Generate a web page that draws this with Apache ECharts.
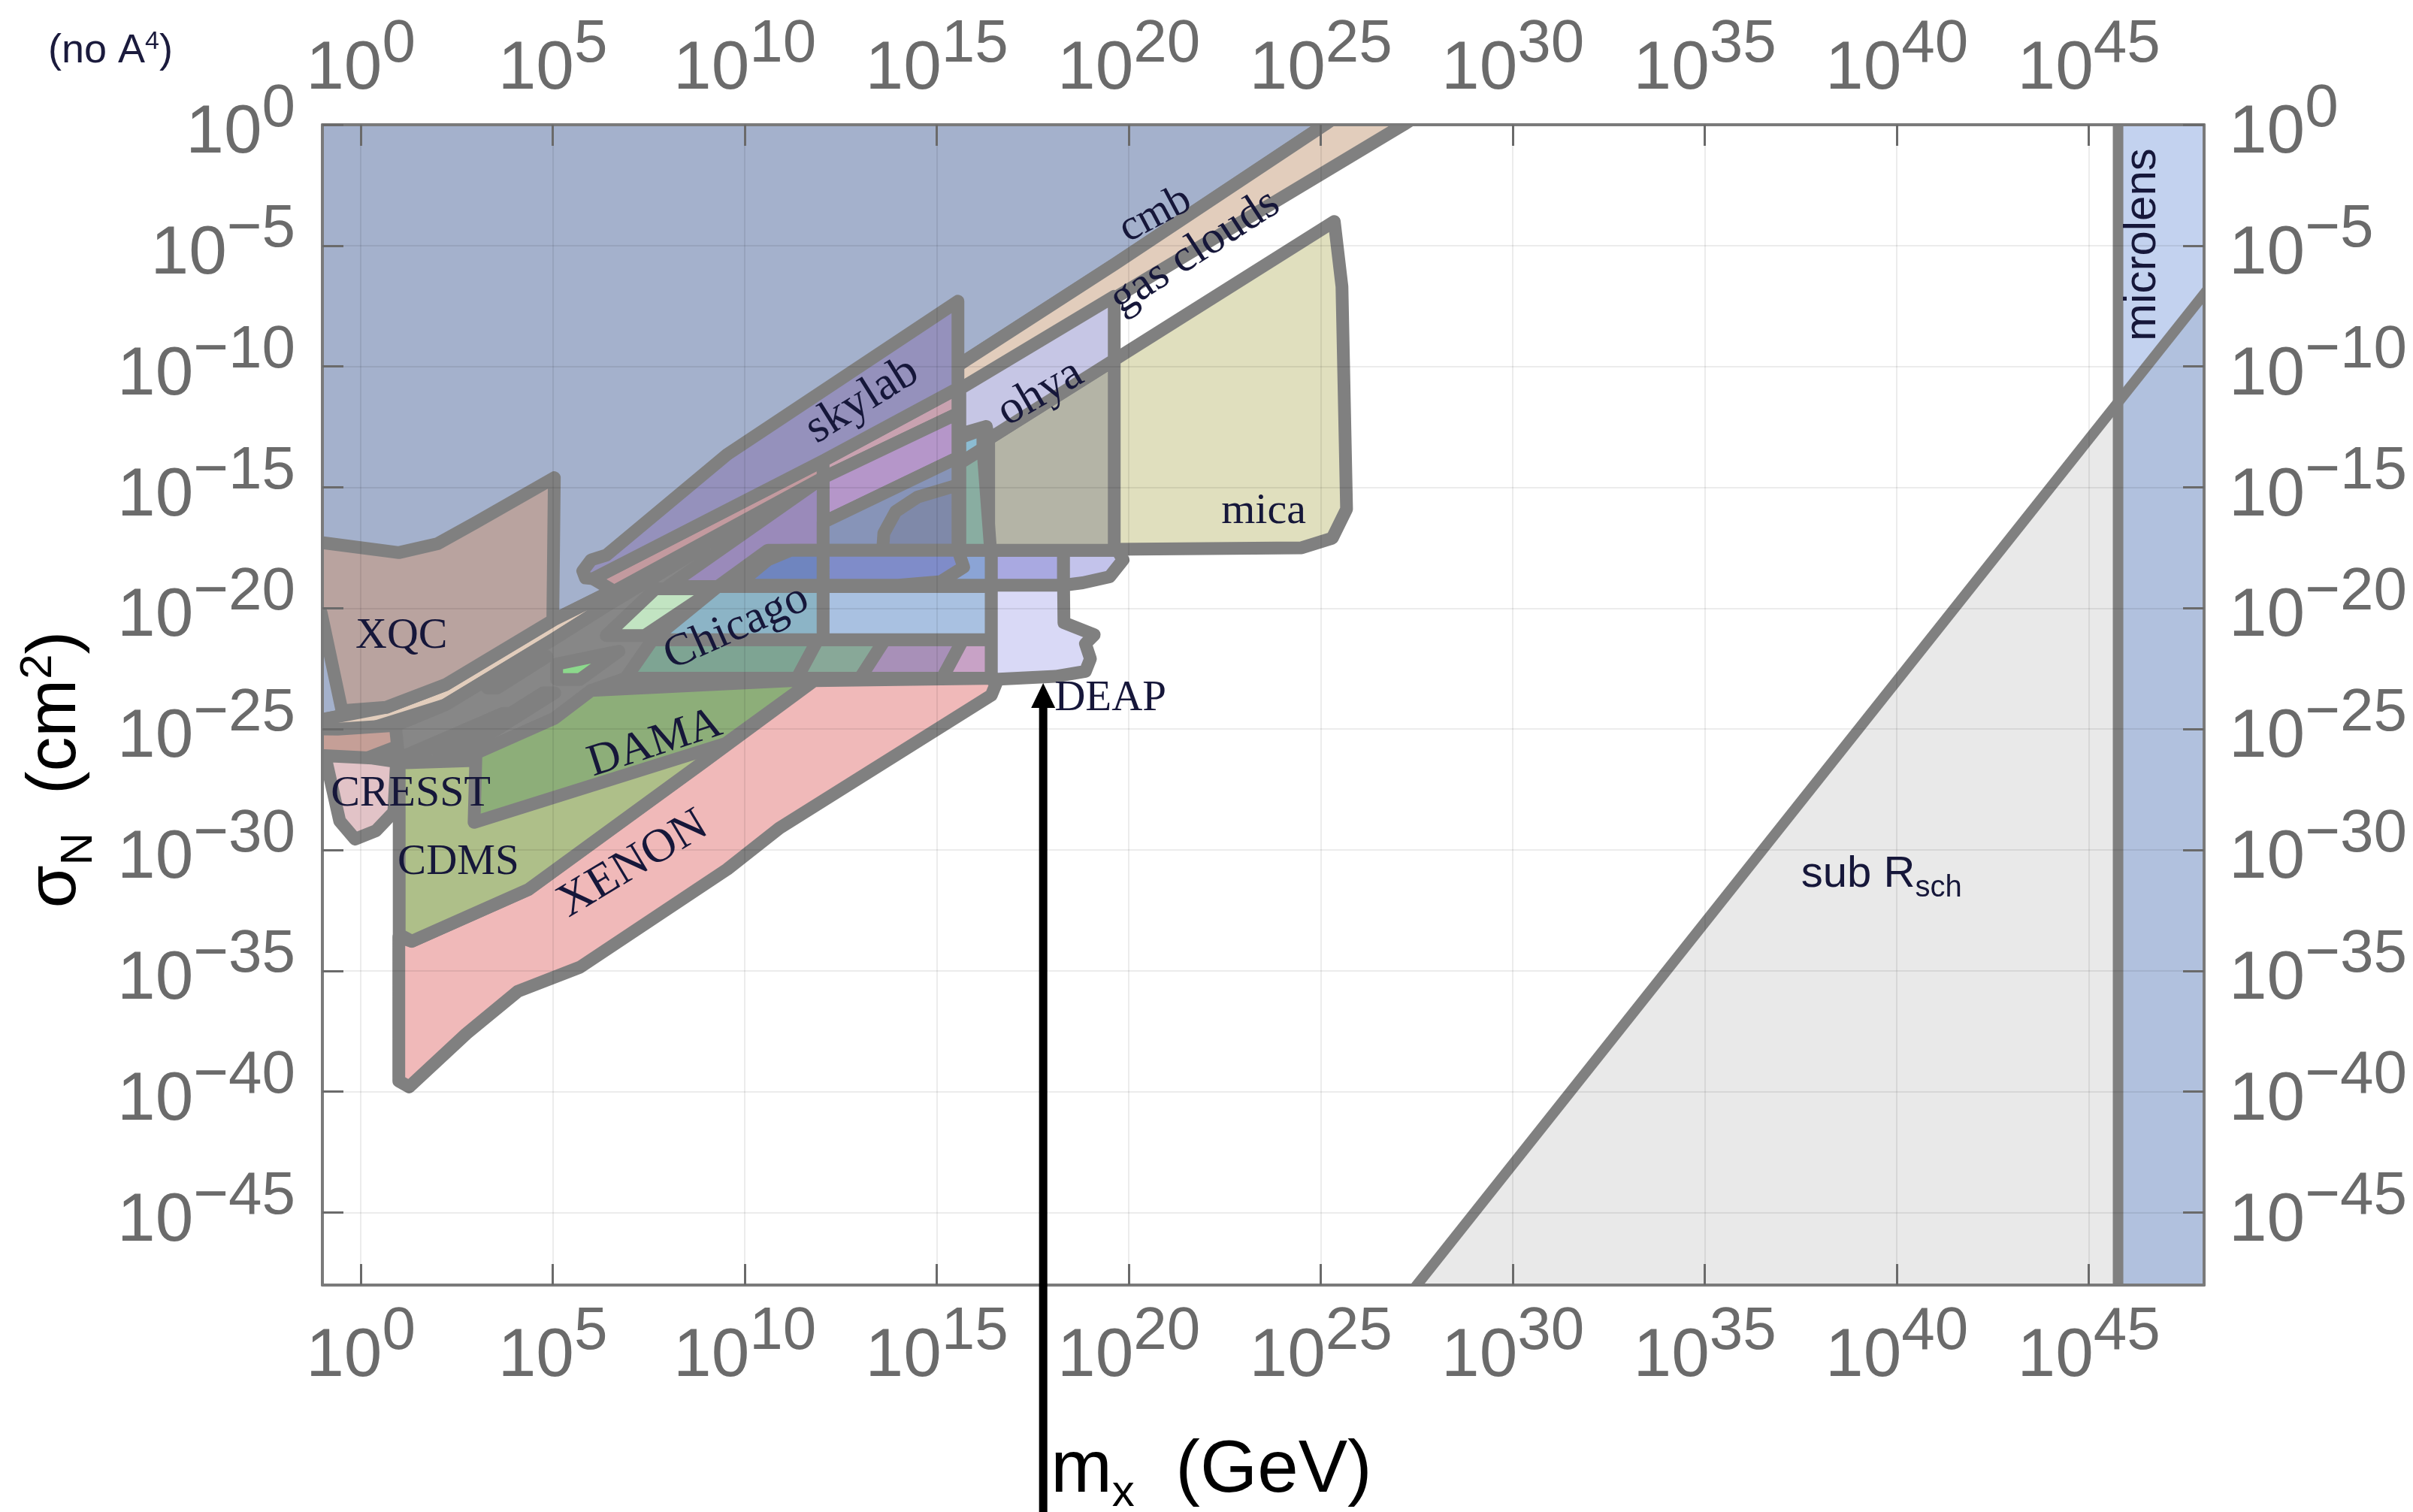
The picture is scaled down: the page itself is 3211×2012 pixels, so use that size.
<!DOCTYPE html>
<html><head><meta charset="utf-8">
<script src="https://cdn.jsdelivr.net/npm/echarts@6.0.0/dist/echarts.min.js"></script>
<style>html,body{margin:0;padding:0;background:#fff}#c{width:3211px;height:2012px}</style>
</head><body><div id="c"></div>
<script>
// ---------- axis ticks (log10 exponents) ----------
const X_TICKS = [0,5,10,15,20,25,30,35,40,45];
const Y_TICKS = [-45,-40,-35,-30,-25,-20,-15,-10,-5,0];

// ---------- regions: [log10(m_X / GeV), log10(sigma_N / cm^2)] ----------
const CMB = [[-3,3],[27.8,3],[25.1,0],[19.65,-5.75],[15.69,-9.81],[10.5,-15.2],[6.39,-19.4],[5.0,-20.5],[2.21,-23.16],[0.66,-24.1],[-1,-24.6],[-3,-25]];
const GAS = [[27.8,3],[30.1,3],[27.15,0],[19.7,-7.1],[15.69,-10.93],[12.24,-14.2],[6.4,-19.9],[5.0,-21.3],[2.2,-24.0],[-1,-25.6],[-3,-26.1],[-3,-25],[-1,-24.6],[0.66,-24.1],[2.21,-23.16],[5.0,-20.5],[6.39,-19.4],[10.5,-15.2],[15.69,-9.81],[19.65,-5.75],[25.1,0]];
const GAS_LEFT = [[-3,-24.95],[-0.6,-25.0],[0.9,-24.85],[1.7,-24.4],[0.9,-25.75],[0.0,-26.3],[-3,-26.3]];
const XQC = [[-3,-17.2],[-1.05,-17.28],[0.99,-17.7],[2.0,-17.33],[3.0,-16.45],[5.04,-14.6],[5.0,-20.5],[2.21,-23.16],[0.66,-24.1],[-0.49,-24.24],[-1.03,-20.2],[-3,-20.0]];
const GREY_ZONE = [[0.9,-24.85],[2.2,-24.0],[5.0,-21.3],[6.4,-19.9],[8.9,-17.5],[9.3,-19.1],[7.6,-21.3],[6.9,-22.9],[6.0,-23.4],[5.04,-24.56],[3.0,-26.0],[2.95,-26.3],[1.0,-26.4]];
const SLIVER_A = [[1.15,-26.1],[3.7,-24.35],[3.95,-24.35],[1.4,-26.1]];
const SLIVER_B = [[1.5,-26.75],[4.75,-23.5],[5.05,-23.5],[1.8,-26.75]];
const SLIVER_C = [[3.3,-23.3],[4.6,-22.0],[4.85,-22.0],[3.55,-23.3]];
const GREEN_PARA = [[6.39,-21.13],[7.67,-19.2],[9.22,-19.2],[7.4,-21.13]];
const BRIGHT_GREEN = [[5.1,-22.31],[6.72,-21.78],[5.71,-22.95],[5.1,-22.95]];
const CRESST = [[-0.95,-26.1],[-0.89,-26.4],[-0.55,-28.8],[-0.15,-29.55],[0.4,-29.2],[0.86,-28.43],[0.93,-26.35],[0.3,-26.2]];
const XENON = [[0.99,-33.6],[0.99,-39.56],[1.26,-39.8],[2.75,-37.6],[4.09,-35.85],[5.71,-34.85],[9.54,-30.8],[10.9,-29.1],[16.42,-23.6],[16.6,-22.9],[11.8,-23.0],[8.9,-26.4],[4.36,-31.64],[1.33,-33.78]];
const CDMS = [[1.0,-26.4],[2.95,-26.3],[8.0,-25.5],[9.3,-25.9],[8.88,-26.4],[4.36,-31.64],[1.33,-33.78],[1.0,-33.5]];
const DAMA = [[3.0,-26.0],[5.04,-24.56],[6.0,-23.4],[11.8,-22.95],[9.5,-25.6],[2.95,-28.86]];
const ROW_A = [[6.9,-22.9],[7.6,-21.3],[11.9,-21.3],[11.36,-22.9]];
const ROW_B = [[11.36,-22.9],[11.9,-21.3],[13.65,-21.3],[13.0,-22.9]];
const ROW_C = [[13.0,-22.9],[13.65,-21.3],[15.68,-21.3],[15.14,-22.9]];
const ROW_D = [[15.14,-22.9],[15.68,-21.3],[16.42,-21.3],[16.42,-22.9]];
const CHICAGO = [[7.6,-21.3],[9.3,-19.1],[12.04,-19.1],[12.04,-21.3]];
const LIGHT_BLUE = [[12.04,-19.1],[16.42,-19.1],[16.42,-21.3],[12.04,-21.3]];
const DEAP = [[16.42,-19.0],[18.3,-19.0],[18.31,-20.6],[19.1,-21.1],[18.87,-21.47],[19.0,-22.09],[18.87,-22.61],[18.09,-22.82],[16.42,-22.95]];
const PINK_LEFT = [[6.05,-18.78],[12.04,-13.9],[12.04,-14.6],[6.6,-19.3]];
const PINK_RIGHT = [[12.04,-13.9],[15.55,-10.9],[15.55,-11.94],[12.04,-14.6]];
const MAGENTA = [[12.04,-14.6],[15.55,-11.94],[15.55,-13.77],[12.04,-16.45]];
const VIOLET = [[8.0,-19.1],[12.04,-14.6],[12.04,-17.6],[10.6,-17.6],[9.3,-19.1]];
const SLATE = [[12.04,-16.45],[15.55,-13.77],[15.55,-17.6],[12.04,-17.6]];
const SLATE_CURVE = [[13.59,-17.6],[13.62,-16.9],[13.93,-16.0],[14.5,-15.4],[15.55,-14.9],[15.55,-17.6]];
const LENS_A = [[9.8,-19.05],[10.6,-18.0],[11.2,-17.6],[12.04,-17.6],[12.04,-19.05]];
const LENS_B = [[12.04,-17.6],[15.55,-17.6],[15.7,-18.3],[15.1,-18.9],[14.0,-19.05],[12.04,-19.05]];
const LENS_C = [[15.55,-17.6],[16.42,-17.6],[16.42,-19.05],[14.3,-19.05],[15.3,-18.7]];
const LENS_D = [[16.42,-17.6],[18.3,-17.6],[18.3,-19.05],[16.42,-19.05]];
const LENS_E = [[18.3,-17.6],[19.7,-17.6],[19.85,-18.0],[19.5,-18.7],[18.8,-18.95],[18.3,-19.05]];
const SKYLAB = [[5.78,-18.46],[6.0,-18.0],[6.4,-17.8],[9.54,-13.64],[15.55,-7.3],[15.55,-10.9],[12.04,-13.9],[6.05,-18.78],[5.85,-18.75]];
const MICA = [[16.35,-13.0],[25.35,-4.0],[25.55,-6.7],[25.67,-15.9],[25.3,-17.1],[24.5,-17.5],[16.35,-17.6]];
const MICA_GREY = [[16.35,-13.0],[19.62,-9.73],[19.62,-17.6],[16.35,-17.6]];
const OHYA = [[15.6,-10.93],[19.62,-7.1],[19.62,-9.73],[16.35,-13.0],[16.29,-12.48],[15.6,-12.8]];
const LIGHT_TEAL = [[15.6,-12.95],[16.2,-12.6],[16.2,-13.4],[15.6,-14.0]];
const TEAL = [[15.6,-14.0],[16.2,-13.4],[16.4,-17.6],[15.6,-17.6]];
const SUB_RSCH = [[26.5,-50],[45.76,-11.48],[45.76,-50]];
const MICRO_LOW = [[45.76,-11.48],[49,-5.0],[49,-50],[45.76,-50]];
const MICRO_UP = [[45.76,-11.48],[45.76,2],[49,2],[49,-5.0]];
const RSCH_LINE = [[26.5,-50],[49,-5.0]];
const MICRO_LINE = [[45.76,2],[45.76,-50]];

// annotation arrow (DEAP reach) tip
const ARROW = [[17.77,-23.1]];

// region labels: [text, x, y]
const LABELS = [
  ['XQC',1.06,-21.16],['CRESST',1.3,-27.68],['CDMS',2.54,-30.53],['DAMA',7.66,-25.6],
  ['XENON',7.09,-30.6],['Chicago',9.78,-20.8],['skylab',13.06,-11.41],['ohya',17.7,-11.1],
  ['cmb',20.69,-3.73],['gas clouds',21.72,-5.26],['mica',23.51,-16.0],['DEAP',19.52,-23.75]
];
const SUB_LABEL = [[39.6,-31.3]];
const MICRO_LABEL = [[46.4,-4.96]];

// ---------- styles ----------
const FILL = {
  CMB:'#a4b1cc', GAS:'#e2cdbc', GAS_LEFT:'#c59f97', XQC:'#b9a39f', GREY_ZONE:'#878787',
  SLIVER_A:'#bfe3b9', SLIVER_B:'#abefab', SLIVER_C:'#e0d2c2', GREEN_PARA:'#c2e4c2', BRIGHT_GREEN:'#8cd98c',
  CRESST:'#e2c3c7', XENON:'#f0b9b9', CDMS:'#aebf89', DAMA:'#8dae79',
  ROW_A:'#7ea493', ROW_B:'#88a898', ROW_C:'#a890b8', ROW_D:'#c8a2c6',
  CHICAGO:'#8cb4c6', LIGHT_BLUE:'#a9c1e1', DEAP:'#d9d9f6',
  PINK_LEFT:'#c39a9f', PINK_RIGHT:'#c9a2b0', MAGENTA:'#b596c9', VIOLET:'#9a8aba',
  SLATE:'#8794b8', SLATE_CURVE:'#7f89a9',
  LENS_A:'#6f85bf', LENS_B:'#7f8cc9', LENS_C:'#8ba4d5', LENS_D:'#a9a9e1', LENS_E:'#c3c3eb',
  SKYLAB:'#9591bc', MICA:'#e0dfbe', MICA_GREY:'#b4b4a6', OHYA:'#c6c6e5',
  LIGHT_TEAL:'#8cbcd2', TEAL:'#89ada1'
};
const ORDER = [
  ['CMB',CMB],['GAS',GAS],['GAS_LEFT',GAS_LEFT],['XQC',XQC],['GREY_ZONE',GREY_ZONE],
  ['SLIVER_A',SLIVER_A],['SLIVER_B',SLIVER_B],['SLIVER_C',SLIVER_C],['GREEN_PARA',GREEN_PARA],['BRIGHT_GREEN',BRIGHT_GREEN],
  ['CRESST',CRESST],['XENON',XENON],['CDMS',CDMS],['DAMA',DAMA],
  ['ROW_A',ROW_A],['ROW_B',ROW_B],['ROW_C',ROW_C],['ROW_D',ROW_D],
  ['CHICAGO',CHICAGO],['LIGHT_BLUE',LIGHT_BLUE],['DEAP',DEAP],
  ['PINK_LEFT',PINK_LEFT],['PINK_RIGHT',PINK_RIGHT],['MAGENTA',MAGENTA],['VIOLET',VIOLET],
  ['SLATE',SLATE],['SLATE_CURVE',SLATE_CURVE],
  ['LENS_C',LENS_C],['LENS_A',LENS_A],['LENS_B',LENS_B],['LENS_D',LENS_D],['LENS_E',LENS_E],
  ['SKYLAB',SKYLAB],['MICA',MICA],['MICA_GREY',MICA_GREY],['OHYA',OHYA],
  ['LIGHT_TEAL',LIGHT_TEAL],['TEAL',TEAL]
];
const LABEL_SIZE = {XQC:58,CRESST:58,CDMS:57,DAMA:60,XENON:63,Chicago:61,skylab:63,ohya:62,cmb:58,'gas clouds':61,mica:58,DEAP:57};
const LABEL_ROT = {DAMA:18,XENON:31,Chicago:24,skylab:32,ohya:30,cmb:28,'gas clouds':33};
const OUTLINE = '#808080';
const LINE_W = 17;
const TEXT_DARK = '#16173a';
const TICK_GREY = '#6b6b6b';

function centroid(pts){let x=0,y=0;pts.forEach(p=>{x+=p[0];y+=p[1];});return [x/pts.length,y/pts.length];}

function polygonSeries(pts, fill, stroke, lw){
  return {
    type:'custom', coordinateSystem:'cartesian2d', clip:true, silent:true, z:2,
    data:[centroid(pts)], encode:{x:0,y:1},
    renderItem:(params, api)=>({
      type:'polygon', shape:{points: pts.map(p=>api.coord(p))},
      style:{fill: fill, stroke: stroke || null, lineWidth: lw || 0, lineJoin:'round'}
    })
  };
}
function polylineSeries(pts, stroke, lw){
  return {
    type:'custom', coordinateSystem:'cartesian2d', clip:true, silent:true, z:2,
    data:[centroid(pts)], encode:{x:0,y:1},
    renderItem:(params, api)=>({
      type:'polyline', shape:{points: pts.map(p=>api.coord(p))},
      style:{fill:null, stroke: stroke, lineWidth: lw}
    })
  };
}

function expLabel(v){
  const s = v < 0 ? '\u2212' + (-v) : String(v);
  return '{b|10}{e|' + s + '}';
}
const RICH = {
  b:{fontSize:91, lineHeight:91, verticalAlign:'bottom', color:TICK_GREY, fontFamily:'Liberation Sans'},
  e:{fontSize:80, lineHeight:80, verticalAlign:'bottom', padding:[0,0,38,0], color:TICK_GREY, fontFamily:'Liberation Sans'}
};
function makeAxis(kind, position, ticks, margin, grid, pad){
  const isX = kind === 'x';
  return {
    type:'value', position: position, z:5,
    min: isX ? -1 : -48, max: isX ? 48 : 0, interval:1,
    axisLine:{show:true, onZero:false, lineStyle:{color:'#7a7a7a', width:4}},
    axisTick:{show:true, inside:true, length:28, customValues: ticks, lineStyle:{color:'#6a6a6a', width:3}},
    axisLabel:{show:true, customValues: ticks, margin: margin, formatter: expLabel, rich: RICH, color:TICK_GREY, padding: pad || 0},
    splitLine:{show: grid, lineStyle:{color:'rgba(0,0,0,0.075)', width:2}}
  };
}

const series = [];
ORDER.forEach(([k, pts]) => series.push(polygonSeries(pts, FILL[k], OUTLINE, LINE_W)));
series.push(polygonSeries(SUB_RSCH, '#e9e9e9'));
series.push(polygonSeries(MICRO_LOW, '#b1c1de'));
series.push(polygonSeries(MICRO_UP, '#c3d2ef'));
series.push(polylineSeries(RSCH_LINE, OUTLINE, 14));
series.push(polylineSeries(MICRO_LINE, OUTLINE, 14));

// region labels
series.push({
  type:'custom', coordinateSystem:'cartesian2d', silent:true, z:8,
  data: LABELS.map(r => [r[1], r[2]]), encode:{x:0,y:1},
  renderItem:(params, api)=>{
    const name = LABELS[params.dataIndex][0];
    const p = api.coord([api.value(0), api.value(1)]);
    return {type:'text', x:p[0], y:p[1], rotation:(LABEL_ROT[name]||0)*Math.PI/180,
      style:{text:name, fontFamily:'Liberation Serif', fontSize:LABEL_SIZE[name]||58, fill:TEXT_DARK, align:'center', verticalAlign:'middle'}};
  }
});
series.push({
  type:'custom', coordinateSystem:'cartesian2d', silent:true, z:8,
  data: SUB_LABEL, encode:{x:0,y:1},
  renderItem:(params, api)=>{
    const p = api.coord([api.value(0), api.value(1)]);
    return {type:'text', x:p[0], y:p[1],
      style:{text:'{a|sub R}{b|sch}', align:'center', verticalAlign:'middle',
        rich:{a:{fontSize:58, lineHeight:58, fontFamily:'Liberation Sans', fill:TEXT_DARK, verticalAlign:'bottom', padding:[0,0,9,0]},
              b:{fontSize:40, lineHeight:40, fontFamily:'Liberation Sans', fill:TEXT_DARK, verticalAlign:'bottom'}}}};
  }
});
series.push({
  type:'custom', coordinateSystem:'cartesian2d', silent:true, z:8,
  data: MICRO_LABEL, encode:{x:0,y:1},
  renderItem:(params, api)=>{
    const p = api.coord([api.value(0), api.value(1)]);
    return {type:'text', x:p[0], y:p[1], rotation:Math.PI/2,
      style:{text:'microlens', fontFamily:'Liberation Sans', fontSize:60, fill:TEXT_DARK, align:'center', verticalAlign:'middle'}};
  }
});
// arrow + x-axis title
series.push({
  type:'custom', coordinateSystem:'cartesian2d', silent:true, clip:false, z:9,
  data: ARROW, encode:{x:0,y:1},
  renderItem:(params, api)=>{
    const p = api.coord([api.value(0), api.value(1)]);
    const H = api.getHeight();
    return {type:'group', children:[
      {type:'line', shape:{x1:p[0], y1:p[1]+28, x2:p[0], y2:H}, style:{stroke:'#000', lineWidth:11}},
      {type:'polygon', shape:{points:[[p[0],p[1]],[p[0]-16,p[1]+33],[p[0]+16,p[1]+33]]}, style:{fill:'#000'}},
      {type:'text', x:p[0]+10, y:H-44, style:{text:'{m|m}{x|x}{m|  (GeV)}', align:'left', verticalAlign:'middle',
        rich:{m:{fontSize:98, lineHeight:98, fontFamily:'Liberation Sans', fill:'#000', verticalAlign:'bottom', padding:[0,0,10,0]},
              x:{fontSize:60, lineHeight:60, fontFamily:'Liberation Sans', fill:'#000', verticalAlign:'bottom'}}}}
    ]};
  }
});

const option = {
  animation:false,
  backgroundColor:'#ffffff',
  grid:{left:429, right:278, top:166, bottom:302, containLabel:false},
  xAxis:[ makeAxis('x','bottom',X_TICKS,50,true), makeAxis('x','top',X_TICKS,28,false) ],
  yAxis:[ makeAxis('y','left',Y_TICKS,36,true,[24,0,0,0]), makeAxis('y','right',Y_TICKS,33,false,[24,0,0,0]) ],
  graphic:[
    {type:'text', x:89, y:1024, rotation:Math.PI/2, z:10,
      style:{text:'{s|\u03c3}{n|N}{s|  (cm}{p|2}{s|)}', align:'center', verticalAlign:'middle',
        rich:{s:{fontSize:92, lineHeight:92, fontFamily:'Liberation Sans', fill:'#000', verticalAlign:'bottom', padding:[0,0,14,0]},
              n:{fontSize:60, lineHeight:60, fontFamily:'Liberation Sans', fill:'#000', verticalAlign:'bottom'},
              p:{fontSize:60, lineHeight:60, fontFamily:'Liberation Sans', fill:'#000', verticalAlign:'bottom', padding:[0,0,54,0]}}}},
    {type:'text', x:147, y:68, z:10,
      style:{text:'{a|(no A}{b|4}{a|)}', align:'center', verticalAlign:'middle',
        rich:{a:{fontSize:54, lineHeight:54, fontFamily:'Liberation Sans', fill:'#1b1b3d', verticalAlign:'bottom'},
              b:{fontSize:34, lineHeight:34, fontFamily:'Liberation Sans', fill:'#1b1b3d', verticalAlign:'bottom', padding:[0,0,22,0]}}}}
  ],
  series: series
};
const chart = echarts.init(document.getElementById('c'), null, {width:3211, height:2012});
chart.setOption(option);
</script></body></html>
